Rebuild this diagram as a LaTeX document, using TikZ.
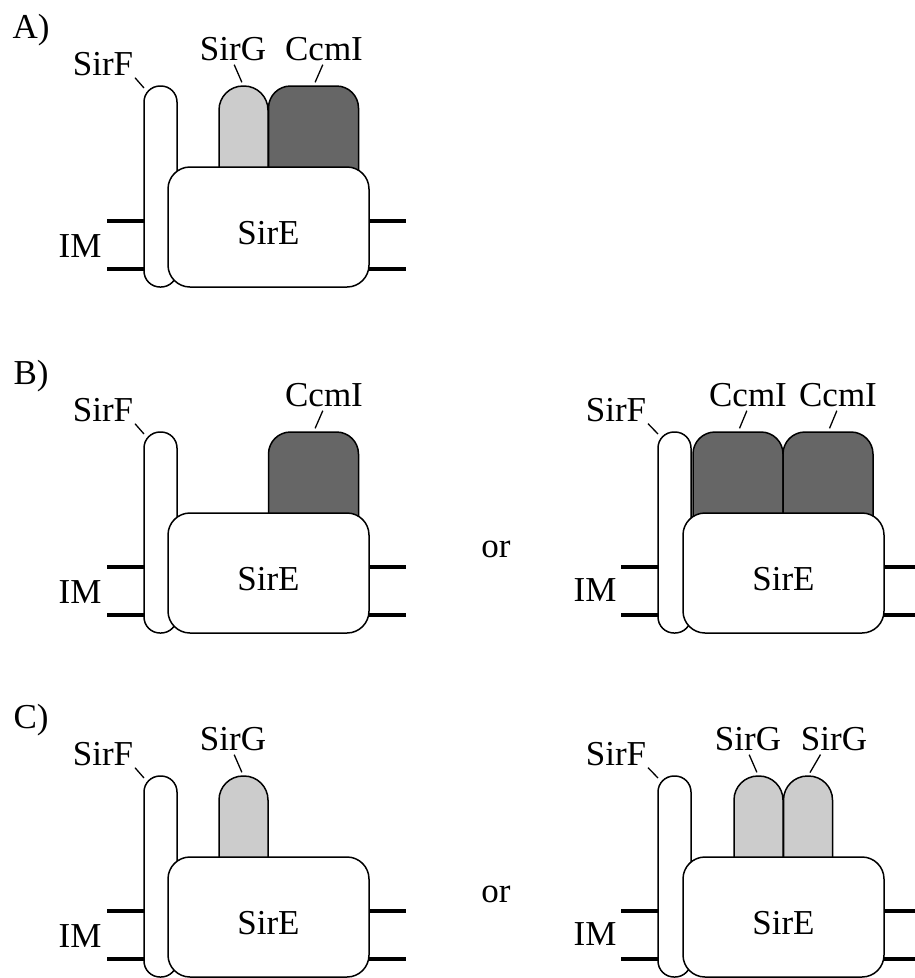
\documentclass[tikz,border=0pt]{standalone}
\usepackage{fontspec}
\setmainfont{Liberation Serif}
\definecolor{sirglight}{gray}{0.8}
\definecolor{ccmidark}{gray}{0.4}
\tikzset{
  prot/.style={draw, line width=1.5pt, inner sep=0pt, outer sep=0pt},
  sirf/.style={prot, fill=white, minimum width=33pt, minimum height=201pt, rounded corners=16pt},
  sirg/.style={prot, fill=sirglight, minimum width=49pt, minimum height=120pt, rounded corners=24pt},
  ccmi/.style={prot, fill=ccmidark, minimum width=90pt, minimum height=120pt, rounded corners=22pt},
  sire/.style={prot, fill=white, minimum width=201pt, minimum height=120pt, rounded corners=22pt, text height=35pt},
  lbl/.style={inner sep=1pt},
  membrane/.style={line width=4.5pt},
  leader/.style={line width=1.3pt, shorten <=3pt, shorten >=4pt},
  fleader/.style={line width=1.3pt, shorten <=1pt, shorten >=0pt}
}
\begin{document}
\begin{tikzpicture}[x=1pt, y=-1pt, font=\fontsize{35}{40}\selectfont]
  \useasboundingbox (0,0) rectangle (914,978);

  % Panel A
  \begin{scope}
    \node[lbl] (alab) at (31,30) {A)};
    % Membrane
    \draw[membrane] (107,221) -- (150,221);
    \draw[membrane] (107,269) -- (150,269);
    \draw[membrane] (360,221) -- (406,221);
    \draw[membrane] (360,269) -- (406,269);
    \node[lbl] (aim) at (80,246) {IM};
    % Proteins
    \node[sirf] (af) at (160.5,186.5) {};
    \node[sirg] (ag) at (243.5,146) {};
    \node[ccmi] (ac) at (313.5,146) {};
    \node[sire] (ae) at (268.5,227) {SirE};
    % Labels
    \node[lbl] (aflab) at (103,64) {SirF};
    \node[lbl] (aglab) at (233,49) {SirG};
    \node[lbl] (aclab) at (324,49) {CcmI};
    \draw[fleader] (aflab.south east) -- ([yshift=-2pt]af.north west);
    \draw[leader] (aglab.south) -- (ag.north);
    \draw[leader] (aclab.south) -- (ac.north);
  \end{scope}

  % Panel B, left
  \begin{scope}[shift={(0,346)}]
    \node[lbl] (blab) at (31,30) {B)};
    % Membrane
    \draw[membrane] (107,221) -- (150,221);
    \draw[membrane] (107,269) -- (150,269);
    \draw[membrane] (360,221) -- (406,221);
    \draw[membrane] (360,269) -- (406,269);
    \node[lbl] (bim) at (80,246) {IM};
    % Proteins
    \node[sirf] (bf) at (160.5,186.5) {};
    \node[ccmi] (bc) at (313.5,146) {};
    \node[sire] (be) at (268.5,227) {SirE};
    % Labels
    \node[lbl] (bflab) at (103,64) {SirF};
    \node[lbl] (bclab) at (324,49) {CcmI};
    \draw[fleader] (bflab.south east) -- ([yshift=-2pt]bf.north west);
    \draw[leader] (bclab.south) -- (bc.north);
    \node[lbl] (bor) at (496,203) {or};
  \end{scope}

  % Panel B, right
  \begin{scope}[shift={(514,346)}]
    % Membrane
    \draw[membrane] (107,221) -- (150,221);
    \draw[membrane] (107,269) -- (150,269);
    \draw[membrane] (360,221) -- (406,221);
    \draw[membrane] (360,269) -- (406,269);
    \node[lbl] (b2im) at (81,244) {IM};
    % Proteins
    \node[sirf] (b2f) at (160.5,186.5) {};
    \node[ccmi] (b2c1) at (224,146) {};
    \node[ccmi] (b2c2) at (314,146) {};
    \node[sire] (b2e) at (269.5,227) {SirE};
    % Labels
    \node[lbl] (b2flab) at (102,64) {SirF};
    \node[lbl] (b2c1lab) at (234,49) {CcmI};
    \node[lbl] (b2c2lab) at (324,49) {CcmI};
    \draw[fleader] (b2flab.south east) -- ([yshift=-2pt]b2f.north west);
    \draw[leader] (b2c1lab.south) -- (b2c1.north);
    \draw[leader] (b2c2lab.south) -- (b2c2.north);
  \end{scope}

  % Panel C, left
  \begin{scope}[shift={(0,690)}]
    \node[lbl] (clab) at (31,30) {C)};
    % Membrane
    \draw[membrane] (107,221) -- (150,221);
    \draw[membrane] (107,269) -- (150,269);
    \draw[membrane] (360,221) -- (406,221);
    \draw[membrane] (360,269) -- (406,269);
    \node[lbl] (cim) at (80,246) {IM};
    % Proteins
    \node[sirf] (cf) at (160.5,186.5) {};
    \node[sirg] (cg) at (243.5,146) {};
    \node[sire] (ce) at (268.5,227) {SirE};
    % Labels
    \node[lbl] (cflab) at (103,64) {SirF};
    \node[lbl] (cglab) at (233,49) {SirG};
    \draw[fleader] (cflab.south east) -- ([yshift=-2pt]cf.north west);
    \draw[leader] (cglab.south) -- (cg.north);
    \node[lbl] (cor) at (496,204) {or};
  \end{scope}

  % Panel C, right
  \begin{scope}[shift={(514,690)}]
    % Membrane
    \draw[membrane] (107,221) -- (150,221);
    \draw[membrane] (107,269) -- (150,269);
    \draw[membrane] (360,221) -- (406,221);
    \draw[membrane] (360,269) -- (406,269);
    \node[lbl] (c2im) at (81,244) {IM};
    % Proteins
    \node[sirf] (c2f) at (160.5,186.5) {};
    \node[sirg] (c2g1) at (244.5,146) {};
    \node[sirg] (c2g2) at (294,146) {};
    \node[sire] (c2e) at (269.5,227) {SirE};
    % Labels
    \node[lbl] (c2flab) at (102,64) {SirF};
    \node[lbl] (c2g1lab) at (234,49) {SirG};
    \node[lbl] (c2g2lab) at (320,49) {SirG};
    \draw[fleader] (c2flab.south east) -- ([yshift=-2pt]c2f.north west);
    \draw[leader] (c2g1lab.south) -- (c2g1.north);
    \draw[leader] ([xshift=-12pt]c2g2lab.south) -- (c2g2.north);
  \end{scope}
\end{tikzpicture}
\end{document}
